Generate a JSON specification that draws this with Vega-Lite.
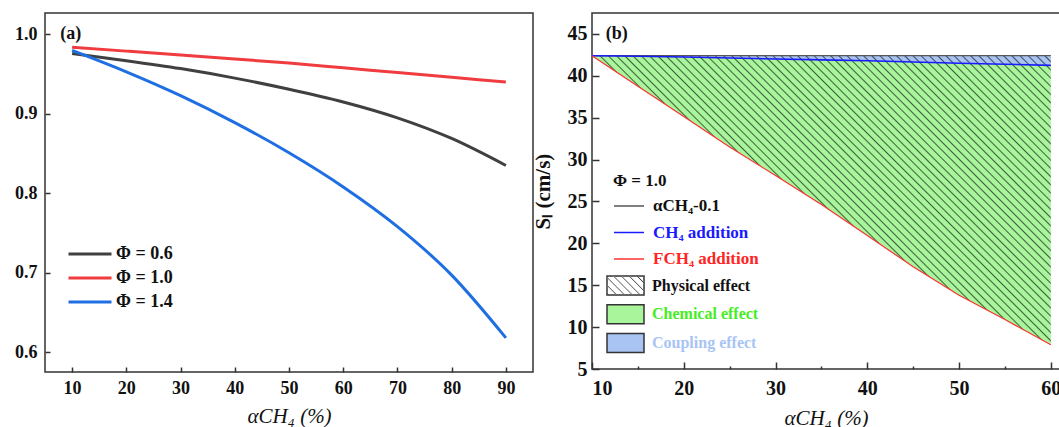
{
  "$schema": "https://vega.github.io/schema/vega-lite/v6.json",
  "padding": {"left": 13, "top": 12, "right": 0, "bottom": 0},
  "spacing": 59,
  "bounds": "flush",
  "config": {
    "font": "Liberation Serif",
    "view": {"stroke": "#333", "strokeWidth": 1.5},
    "axis": {"grid": false, "domain": false, "labelFont": "Liberation Serif", "labelFontWeight": "bold", "labelColor": "#111", "tickColor": "#333", "tickWidth": 1.5, "titleFont": "Liberation Serif", "titleColor": "#111"},
    "legend": {"padding": 0, "labelFont": "Liberation Serif", "labelFontWeight": "bold", "labelColor": "#111", "titleFont": "Liberation Serif", "titleColor": "#111"},
    "text": {"font": "Liberation Serif"}
  },
  "resolve": {
    "scale": {"color": "independent", "fill": "independent", "stroke": "independent", "shape": "independent"},
    "legend": {"color": "independent", "fill": "independent", "stroke": "independent", "shape": "independent"}
  },
  "datasets": {
    "a": [
      {"x": 10, "phi": "Φ = 0.6", "v": 0.976}, {"x": 20, "phi": "Φ = 0.6", "v": 0.967}, {"x": 30, "phi": "Φ = 0.6", "v": 0.957},
      {"x": 40, "phi": "Φ = 0.6", "v": 0.945}, {"x": 50, "phi": "Φ = 0.6", "v": 0.931}, {"x": 60, "phi": "Φ = 0.6", "v": 0.915},
      {"x": 70, "phi": "Φ = 0.6", "v": 0.895}, {"x": 80, "phi": "Φ = 0.6", "v": 0.869}, {"x": 90, "phi": "Φ = 0.6", "v": 0.835},
      {"x": 10, "phi": "Φ = 1.0", "v": 0.984}, {"x": 20, "phi": "Φ = 1.0", "v": 0.979}, {"x": 30, "phi": "Φ = 1.0", "v": 0.974},
      {"x": 40, "phi": "Φ = 1.0", "v": 0.969}, {"x": 50, "phi": "Φ = 1.0", "v": 0.964}, {"x": 60, "phi": "Φ = 1.0", "v": 0.958},
      {"x": 70, "phi": "Φ = 1.0", "v": 0.952}, {"x": 80, "phi": "Φ = 1.0", "v": 0.946}, {"x": 90, "phi": "Φ = 1.0", "v": 0.940},
      {"x": 10, "phi": "Φ = 1.4", "v": 0.980}, {"x": 20, "phi": "Φ = 1.4", "v": 0.953}, {"x": 30, "phi": "Φ = 1.4", "v": 0.923},
      {"x": 40, "phi": "Φ = 1.4", "v": 0.889}, {"x": 50, "phi": "Φ = 1.4", "v": 0.851}, {"x": 60, "phi": "Φ = 1.4", "v": 0.808},
      {"x": 70, "phi": "Φ = 1.4", "v": 0.758}, {"x": 80, "phi": "Φ = 1.4", "v": 0.697}, {"x": 90, "phi": "Φ = 1.4", "v": 0.618}
    ],
    "b": [
      {"x": 10, "top": 42.4, "ch4": 42.4, "fch4": 42.4},
      {"x": 15, "top": 42.4, "ch4": 42.33, "fch4": 38.75},
      {"x": 20, "top": 42.4, "ch4": 42.25, "fch4": 35.15},
      {"x": 25, "top": 42.4, "ch4": 42.12, "fch4": 31.5},
      {"x": 30, "top": 42.4, "ch4": 42.0, "fch4": 28.1},
      {"x": 35, "top": 42.4, "ch4": 41.9, "fch4": 24.65},
      {"x": 40, "top": 42.4, "ch4": 41.8, "fch4": 20.95},
      {"x": 45, "top": 42.4, "ch4": 41.65, "fch4": 17.2},
      {"x": 50, "top": 42.4, "ch4": 41.5, "fch4": 13.8},
      {"x": 55, "top": 42.4, "ch4": 41.38, "fch4": 10.9},
      {"x": 60, "top": 42.4, "ch4": 41.25, "fch4": 7.9}
    ]
  },
  "hconcat": [
    {
      "width": 488,
      "height": 359,
      "layer": [
        {
          "data": {"name": "a"},
          "mark": {"type": "line", "strokeWidth": 3, "interpolate": "monotone"},
          "encoding": {
            "x": {"field": "x", "type": "quantitative", "scale": {"domain": [5, 95], "nice": false, "zero": false},
                  "axis": {"values": [10, 20, 30, 40, 50, 60, 70, 80, 90], "tickSize": -5, "labelPadding": 12, "labelFontSize": 18, "title": "αCH₄ (%)", "titleFontSize": 21, "titleFontStyle": "italic", "titleFontWeight": "normal", "titlePadding": 8}},
            "y": {"field": "v", "type": "quantitative", "scale": {"domain": [0.575, 1.027], "nice": false, "zero": false},
                  "axis": {"values": [0.6, 0.7, 0.8, 0.9, 1.0], "format": ".1f", "tickSize": -5, "labelPadding": 13, "labelFontSize": 18, "title": null}},
            "color": {"field": "phi", "type": "nominal",
                      "scale": {"domain": ["Φ = 0.6", "Φ = 1.0", "Φ = 1.4"], "range": ["#404040", "#f03c3f", "#1f6fe3"]},
                      "legend": {"orient": "none", "legendX": 22, "legendY": 230, "title": null, "symbolType": "stroke", "symbolSize": 1849, "symbolStrokeWidth": 3, "labelFontSize": 18, "labelOffset": 3, "clipHeight": 22, "rowPadding": 2}}
          }
        },
        {
          "data": {"values": [{}]},
          "mark": {"type": "text", "text": "(a)", "align": "left", "baseline": "middle", "fontSize": 18, "fontWeight": "bold", "color": "#111"},
          "encoding": {
            "x": {"datum": 7.8, "type": "quantitative", "scale": {"domain": [5, 95], "nice": false, "zero": false}},
            "y": {"datum": 1.0, "type": "quantitative", "scale": {"domain": [0.575, 1.027], "nice": false, "zero": false}}
          }
        }
      ]
    },
    {
      "width": 468,
      "height": 356,
      "data": {"name": "b"},
      "layer": [
        {
          "mark": {"type": "area", "opacity": 1},
          "encoding": {
            "x": {"field": "x", "type": "quantitative", "scale": {"domain": [10, 61], "nice": false, "zero": false},
                  "axis": {"values": [10, 15, 20, 25, 30, 35, 40, 45, 50, 55, 60], "labelExpr": "datum.value % 10 === 0 ? datum.label : ''", "tickSize": {"condition": {"test": "datum.value % 10 === 0", "value": -7}, "value": -3}, "labelPadding": 16, "labelFontSize": 20, "title": "αCH₄ (%)", "titleFontSize": 21, "titleFontStyle": "italic", "titleFontWeight": "normal", "titlePadding": 9}},
            "y": {"field": "top", "type": "quantitative", "scale": {"domain": [5, 47.5], "nice": false, "zero": false},
                  "axis": {"values": [5, 7.5, 10, 12.5, 15, 17.5, 20, 22.5, 25, 27.5, 30, 32.5, 35, 37.5, 40, 42.5, 45], "labelExpr": "datum.value % 5 === 0 ? datum.label : ''", "tickSize": {"condition": {"test": "datum.value % 5 === 0", "value": -7}, "value": -3}, "labelPadding": 12, "labelFontSize": 20, "title": "Sₗ (cm/s)", "titleFontSize": 21, "titleFontWeight": "bold", "titlePadding": 14}},
            "y2": {"field": "ch4"},
            "fill": {"datum": "Coupling effect", "type": "nominal",
                     "scale": {"domain": ["Physical effect", "Chemical effect", "Coupling effect"], "range": ["transparent", "#a8f59c", "#a9c3f3"]},
                     "legend": {"orient": "none", "legendX": 14, "legendY": 261.5, "title": null,
                                "symbolType": "M-1,-0.514H1V0.514H-1Z", "symbolSize": 1369, "symbolStrokeColor": "#333", "symbolStrokeWidth": 1.5, "symbolOpacity": 1,
                                "labelFontSize": 16, "labelOffset": 7, "clipHeight": 22, "rowPadding": 6.7,
                                "encode": {
                                  "labels": {"update": {"fill": {"signal": "datum.value === 'Chemical effect' ? '#44ee22' : datum.value === 'Coupling effect' ? '#a8c4f5' : '#111'"}}}
                                }}}
          }
        },
        {
          "mark": {"type": "area", "opacity": 1},
          "encoding": {
            "x": {"field": "x", "type": "quantitative", "scale": {"domain": [10, 61], "nice": false, "zero": false}},
            "y": {"field": "ch4", "type": "quantitative", "scale": {"domain": [5, 47.5], "nice": false, "zero": false}},
            "y2": {"field": "fch4"},
            "fill": {"datum": "Chemical effect", "type": "nominal", "legend": null}
          }
        },
        {
          "mark": {"type": "area", "opacity": 1,
                   "fill": {"gradient": "linear", "x1": 0, "y1": 1, "x2": 1.166, "y2": 0.263, "stops": [
                     {"offset": 0.363, "color": "#0000"}, {"offset": 0.365, "color": "#0009"}, {"offset": 0.367, "color": "#0000"},
                     {"offset": 0.374, "color": "#0000"}, {"offset": 0.376, "color": "#0009"}, {"offset": 0.378, "color": "#0000"},
                     {"offset": 0.385, "color": "#0000"}, {"offset": 0.387, "color": "#0009"}, {"offset": 0.389, "color": "#0000"},
                     {"offset": 0.396, "color": "#0000"}, {"offset": 0.398, "color": "#0009"}, {"offset": 0.400, "color": "#0000"},
                     {"offset": 0.407, "color": "#0000"}, {"offset": 0.409, "color": "#0009"}, {"offset": 0.411, "color": "#0000"},
                     {"offset": 0.418, "color": "#0000"}, {"offset": 0.420, "color": "#0009"}, {"offset": 0.422, "color": "#0000"},
                     {"offset": 0.429, "color": "#0000"}, {"offset": 0.431, "color": "#0009"}, {"offset": 0.433, "color": "#0000"},
                     {"offset": 0.440, "color": "#0000"}, {"offset": 0.442, "color": "#0009"}, {"offset": 0.444, "color": "#0000"},
                     {"offset": 0.451, "color": "#0000"}, {"offset": 0.453, "color": "#0009"}, {"offset": 0.455, "color": "#0000"},
                     {"offset": 0.462, "color": "#0000"}, {"offset": 0.464, "color": "#0009"}, {"offset": 0.466, "color": "#0000"},
                     {"offset": 0.473, "color": "#0000"}, {"offset": 0.475, "color": "#0009"}, {"offset": 0.477, "color": "#0000"},
                     {"offset": 0.484, "color": "#0000"}, {"offset": 0.486, "color": "#0009"}, {"offset": 0.488, "color": "#0000"},
                     {"offset": 0.495, "color": "#0000"}, {"offset": 0.497, "color": "#0009"}, {"offset": 0.499, "color": "#0000"},
                     {"offset": 0.506, "color": "#0000"}, {"offset": 0.508, "color": "#0009"}, {"offset": 0.510, "color": "#0000"},
                     {"offset": 0.517, "color": "#0000"}, {"offset": 0.519, "color": "#0009"}, {"offset": 0.521, "color": "#0000"},
                     {"offset": 0.528, "color": "#0000"}, {"offset": 0.530, "color": "#0009"}, {"offset": 0.532, "color": "#0000"},
                     {"offset": 0.539, "color": "#0000"}, {"offset": 0.541, "color": "#0009"}, {"offset": 0.543, "color": "#0000"},
                     {"offset": 0.550, "color": "#0000"}, {"offset": 0.552, "color": "#0009"}, {"offset": 0.554, "color": "#0000"},
                     {"offset": 0.561, "color": "#0000"}, {"offset": 0.563, "color": "#0009"}, {"offset": 0.565, "color": "#0000"},
                     {"offset": 0.572, "color": "#0000"}, {"offset": 0.574, "color": "#0009"}, {"offset": 0.576, "color": "#0000"},
                     {"offset": 0.583, "color": "#0000"}, {"offset": 0.585, "color": "#0009"}, {"offset": 0.587, "color": "#0000"},
                     {"offset": 0.594, "color": "#0000"}, {"offset": 0.596, "color": "#0009"}, {"offset": 0.598, "color": "#0000"},
                     {"offset": 0.605, "color": "#0000"}, {"offset": 0.607, "color": "#0009"}, {"offset": 0.609, "color": "#0000"},
                     {"offset": 0.616, "color": "#0000"}, {"offset": 0.618, "color": "#0009"}, {"offset": 0.620, "color": "#0000"},
                     {"offset": 0.627, "color": "#0000"}, {"offset": 0.629, "color": "#0009"}, {"offset": 0.631, "color": "#0000"},
                     {"offset": 0.638, "color": "#0000"}, {"offset": 0.640, "color": "#0009"}, {"offset": 0.642, "color": "#0000"},
                     {"offset": 0.649, "color": "#0000"}, {"offset": 0.651, "color": "#0009"}, {"offset": 0.653, "color": "#0000"},
                     {"offset": 0.660, "color": "#0000"}, {"offset": 0.662, "color": "#0009"}, {"offset": 0.664, "color": "#0000"},
                     {"offset": 0.671, "color": "#0000"}, {"offset": 0.673, "color": "#0009"}, {"offset": 0.675, "color": "#0000"},
                     {"offset": 0.682, "color": "#0000"}, {"offset": 0.684, "color": "#0009"}, {"offset": 0.686, "color": "#0000"},
                     {"offset": 0.693, "color": "#0000"}, {"offset": 0.695, "color": "#0009"}, {"offset": 0.697, "color": "#0000"},
                     {"offset": 0.704, "color": "#0000"}, {"offset": 0.706, "color": "#0009"}, {"offset": 0.708, "color": "#0000"},
                     {"offset": 0.715, "color": "#0000"}, {"offset": 0.717, "color": "#0009"}, {"offset": 0.719, "color": "#0000"},
                     {"offset": 0.726, "color": "#0000"}, {"offset": 0.728, "color": "#0009"}, {"offset": 0.730, "color": "#0000"},
                     {"offset": 0.737, "color": "#0000"}, {"offset": 0.739, "color": "#0009"}, {"offset": 0.741, "color": "#0000"},
                     {"offset": 0.748, "color": "#0000"}, {"offset": 0.750, "color": "#0009"}, {"offset": 0.752, "color": "#0000"},
                     {"offset": 0.759, "color": "#0000"}, {"offset": 0.761, "color": "#0009"}, {"offset": 0.763, "color": "#0000"},
                     {"offset": 0.770, "color": "#0000"}, {"offset": 0.772, "color": "#0009"}, {"offset": 0.774, "color": "#0000"},
                     {"offset": 0.781, "color": "#0000"}, {"offset": 0.783, "color": "#0009"}, {"offset": 0.785, "color": "#0000"},
                     {"offset": 0.792, "color": "#0000"}, {"offset": 0.794, "color": "#0009"}, {"offset": 0.796, "color": "#0000"},
                     {"offset": 0.803, "color": "#0000"}, {"offset": 0.805, "color": "#0009"}, {"offset": 0.807, "color": "#0000"},
                     {"offset": 0.814, "color": "#0000"}, {"offset": 0.816, "color": "#0009"}, {"offset": 0.818, "color": "#0000"},
                     {"offset": 0.825, "color": "#0000"}, {"offset": 0.827, "color": "#0009"}, {"offset": 0.829, "color": "#0000"},
                     {"offset": 0.836, "color": "#0000"}, {"offset": 0.838, "color": "#0009"}, {"offset": 0.840, "color": "#0000"},
                     {"offset": 0.847, "color": "#0000"}, {"offset": 0.849, "color": "#0009"}, {"offset": 0.851, "color": "#0000"},
                     {"offset": 0.858, "color": "#0000"}, {"offset": 0.860, "color": "#0009"}, {"offset": 0.862, "color": "#0000"},
                     {"offset": 0.869, "color": "#0000"}, {"offset": 0.871, "color": "#0009"}, {"offset": 0.873, "color": "#0000"},
                     {"offset": 0.880, "color": "#0000"}, {"offset": 0.882, "color": "#0009"}, {"offset": 0.884, "color": "#0000"},
                     {"offset": 0.891, "color": "#0000"}, {"offset": 0.893, "color": "#0009"}, {"offset": 0.895, "color": "#0000"},
                     {"offset": 0.902, "color": "#0000"}, {"offset": 0.904, "color": "#0009"}, {"offset": 0.906, "color": "#0000"},
                     {"offset": 0.913, "color": "#0000"}, {"offset": 0.915, "color": "#0009"}, {"offset": 0.917, "color": "#0000"},
                     {"offset": 0.924, "color": "#0000"}, {"offset": 0.926, "color": "#0009"}, {"offset": 0.928, "color": "#0000"},
                     {"offset": 0.935, "color": "#0000"}, {"offset": 0.937, "color": "#0009"}, {"offset": 0.939, "color": "#0000"},
                     {"offset": 0.946, "color": "#0000"}, {"offset": 0.948, "color": "#0009"}, {"offset": 0.950, "color": "#0000"},
                     {"offset": 0.957, "color": "#0000"}, {"offset": 0.959, "color": "#0009"}, {"offset": 0.961, "color": "#0000"},
                     {"offset": 0.968, "color": "#0000"}, {"offset": 0.970, "color": "#0009"}, {"offset": 0.972, "color": "#0000"},
                     {"offset": 0.979, "color": "#0000"}, {"offset": 0.981, "color": "#0009"}, {"offset": 0.983, "color": "#0000"},
                     {"offset": 0.990, "color": "#0000"}, {"offset": 0.992, "color": "#0009"}, {"offset": 0.994, "color": "#0000"}
                   ]}},
          "encoding": {
            "x": {"field": "x", "type": "quantitative", "scale": {"domain": [10, 61], "nice": false, "zero": false}},
            "y": {"field": "top", "type": "quantitative", "scale": {"domain": [5, 47.5], "nice": false, "zero": false}},
            "y2": {"field": "fch4"}
          }
        },
        {
          "data": {"values": [{}]},
          "mark": {"type": "point", "filled": true, "opacity": 0,
                   "fill": {"gradient": "linear", "x1": 0, "y1": 1, "x2": 1.2, "y2": 0.384, "stops": [
                     {"offset": 0, "color": "#fff0"}, {"offset": 0.025, "color": "#333"}, {"offset": 0.05, "color": "#fff0"},
                     {"offset": 0.14, "color": "#fff0"}, {"offset": 0.165, "color": "#333"}, {"offset": 0.19, "color": "#fff0"},
                     {"offset": 0.28, "color": "#fff0"}, {"offset": 0.305, "color": "#333"}, {"offset": 0.33, "color": "#fff0"},
                     {"offset": 0.42, "color": "#fff0"}, {"offset": 0.445, "color": "#333"}, {"offset": 0.47, "color": "#fff0"},
                     {"offset": 0.56, "color": "#fff0"}, {"offset": 0.585, "color": "#333"}, {"offset": 0.61, "color": "#fff0"},
                     {"offset": 0.70, "color": "#fff0"}, {"offset": 0.725, "color": "#333"}, {"offset": 0.75, "color": "#fff0"},
                     {"offset": 0.84, "color": "#fff0"}, {"offset": 0.865, "color": "#333"}, {"offset": 0.89, "color": "#fff0"},
                     {"offset": 0.98, "color": "#fff0"}, {"offset": 1, "color": "#333"}]}},
          "encoding": {
            "x": {"datum": 30, "type": "quantitative", "scale": {"domain": [10, 61], "nice": false, "zero": false}},
            "y": {"datum": 30, "type": "quantitative", "scale": {"domain": [5, 47.5], "nice": false, "zero": false}},
            "shape": {"datum": "Physical effect", "type": "nominal",
                      "scale": {"domain": ["Physical effect"], "range": ["M-1,-0.514H1V0.514H-1Z"]},
                      "legend": {"orient": "none", "legendX": 14, "legendY": 261, "title": null,
                                 "symbolSize": 1369, "symbolOpacity": 1,
                                 "labelFontSize": 16, "labelOffset": 7, "labelOpacity": 0, "clipHeight": 22}}
          }
        },
        {
          "mark": {"type": "line", "strokeWidth": 1.2},
          "encoding": {
            "x": {"field": "x", "type": "quantitative", "scale": {"domain": [10, 61], "nice": false, "zero": false}},
            "y": {"field": "top", "type": "quantitative", "scale": {"domain": [5, 47.5], "nice": false, "zero": false}},
            "stroke": {"datum": "αCH₄-0.1", "type": "nominal",
                       "scale": {"domain": ["αCH₄-0.1", "CH₄ addition", "FCH₄ addition"], "range": ["#555555", "#1a1aff", "#ff3030"]},
                       "legend": {"orient": "none", "legendX": 21, "legendY": 160, "title": "Φ = 1.0", "titleFontSize": 17, "titleFontWeight": "bold", "titlePadding": 5,
                                  "symbolType": "stroke", "symbolSize": 900, "symbolStrokeWidth": 1.5, "labelFontSize": 17, "labelOffset": 8, "clipHeight": 22, "rowPadding": 4.5,
                                  "encode": {"labels": {"update": {"fill": {"signal": "datum.value === 'CH₄ addition' ? '#1a1aff' : datum.value === 'FCH₄ addition' ? '#ff2525' : '#111'"}}}}}}
          }
        },
        {
          "mark": {"type": "line", "strokeWidth": 1.6},
          "encoding": {
            "x": {"field": "x", "type": "quantitative", "scale": {"domain": [10, 61], "nice": false, "zero": false}},
            "y": {"field": "ch4", "type": "quantitative", "scale": {"domain": [5, 47.5], "nice": false, "zero": false}},
            "stroke": {"datum": "CH₄ addition", "type": "nominal", "legend": null}
          }
        },
        {
          "mark": {"type": "line", "strokeWidth": 1.2},
          "encoding": {
            "x": {"field": "x", "type": "quantitative", "scale": {"domain": [10, 61], "nice": false, "zero": false}},
            "y": {"field": "fch4", "type": "quantitative", "scale": {"domain": [5, 47.5], "nice": false, "zero": false}},
            "stroke": {"datum": "FCH₄ addition", "type": "nominal", "legend": null}
          }
        },
        {
          "data": {"values": [{}]},
          "mark": {"type": "text", "text": "(b)", "align": "left", "baseline": "middle", "fontSize": 18, "fontWeight": "bold", "color": "#111"},
          "encoding": {
            "x": {"datum": 11.5, "type": "quantitative", "scale": {"domain": [10, 61], "nice": false, "zero": false}},
            "y": {"datum": 45, "type": "quantitative", "scale": {"domain": [5, 47.5], "nice": false, "zero": false}}
          }
        }
      ]
    }
  ]
}
